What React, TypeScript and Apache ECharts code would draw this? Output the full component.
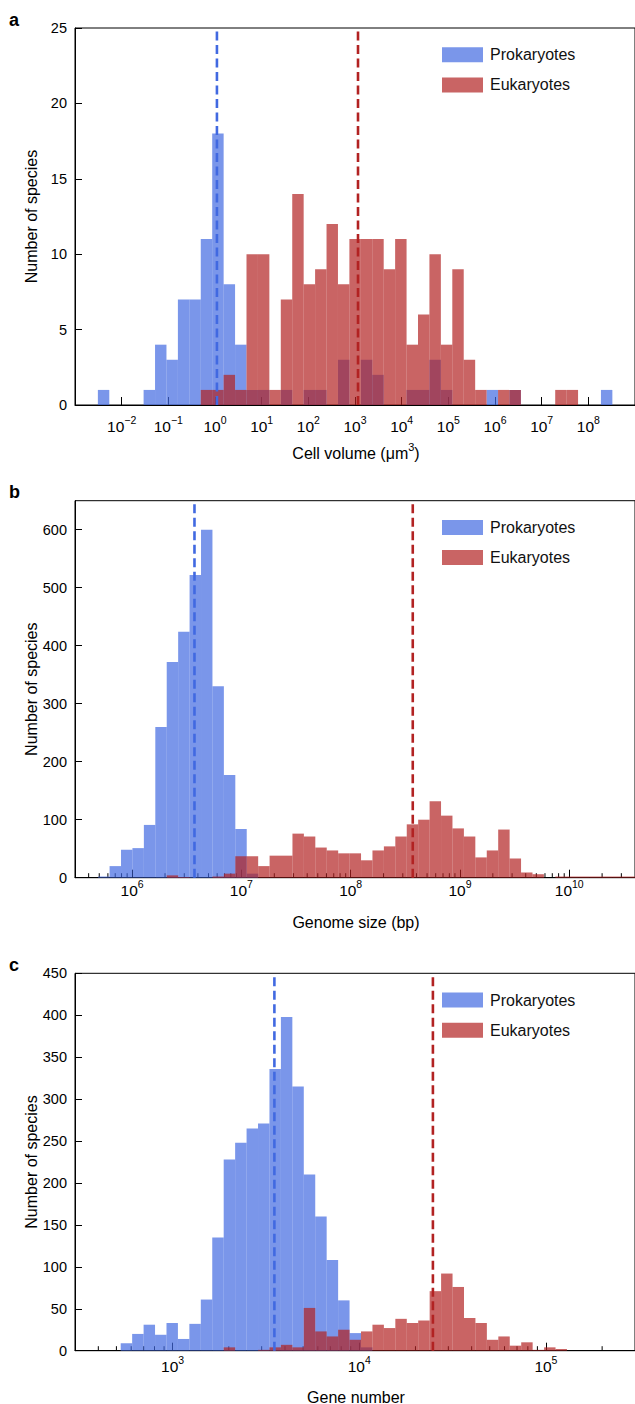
import React, { useEffect, useRef } from 'react';
import * as echarts from 'echarts';

const FONT = '"Liberation Sans", Arial, Helvetica, sans-serif';

// ---------- Panel a: cell volume (µm³), log10 bins ----------
const cellBinStartLog = -2.51;
const cellBinWidthLog = 0.245;
const cellProkaryotes = [1, 0, 0, 0, 1, 4, 3, 7, 7, 11, 18, 8, 4, 1, 1, 0, 1, 0, 1, 1, 0, 3, 0, 3, 2, 0, 0, 1, 1, 3, 1, 0, 0, 0, 1, 0, 1, 0, 0, 0, 0, 0, 0, 0, 1];
const cellEukaryotes = [0, 0, 0, 0, 0, 0, 0, 0, 0, 1, 1, 2, 1, 10, 10, 1, 7, 14, 8, 9, 12, 8, 11, 11, 11, 9, 11, 4, 6, 10, 4, 9, 3, 1, 0, 1, 1, 0, 0, 0, 1, 1, 0, 0, 0];
const cellMedians = [1.1, 1160];
const cellXRange = [1e-3, 1e9];
const cellYTicks = [0, 5, 10, 15, 20, 25];

// ---------- Panel b: genome size (bp) ----------
const genomeBinStartLog = 5.689;
const genomeBinWidthLog = 0.1046;
const genomeProkaryotes = [2, 20, 48, 51, 91, 260, 372, 424, 522, 600, 330, 177, 84, 7];
const genomeEukaryotes = [0, 0, 0, 0, 0, 0, 4, 1, 0, 0, 2, 7, 37, 37, 20, 38, 38, 76, 71, 52, 47, 42, 42, 30, 47, 54, 71, 92, 100, 132, 107, 85, 71, 35, 47, 83, 33, 9, 6, 0, 2, 2, 2, 2, 2, 2, 2];
const genomeMedians = [3.72e6, 3.7e8];
const genomeXRange = [3e5, 4e10];
const genomeYTicks = [0, 100, 200, 300, 400, 500, 600];
const genomeYMax = 650;

// ---------- Panel c: gene number ----------
const geneBinStartLog = 2.722;
const geneBinWidthLog = 0.0613;
const geneProkaryotes = [9, 20, 31, 19, 33, 14, 32, 61, 135, 228, 248, 265, 271, 336, 398, 315, 210, 160, 108, 60, 21, 4];
const geneEukaryotes = [0, 0, 0, 0, 0, 0, 0, 0, 0, 4, 0, 0, 1, 4, 7, 4, 51, 23, 17, 25, 13, 23, 31, 27, 38, 33, 36, 71, 92, 76, 39, 33, 13, 17, 6, 10, 1, 4, 2];
const geneMedians = [3510, 24800];
const geneXRange = [300, 3e5];
const geneYTicks = [0, 50, 100, 150, 200, 250, 300, 350, 400, 450];

const seriesNames = ['Prokaryotes', 'Eukaryotes'];
const panelLetters = ['a', 'b', 'c'];
// rich-text titles: {n|...} normal, {s|...} superscript
const xTitles = ['{n|Cell volume (μm}{s|3}{n|)}', '{n|Genome size (bp)}', '{n|Gene number}'];
const yTitle = 'Number of species';

const PROK_FILL = 'rgba(65,105,225,0.7)';
const EUK_FILL = 'rgba(178,34,34,0.7)';
const PROK_LINE = '#4169e1';
const EUK_LINE = '#b22222';

type Panel = {
  start: number;
  width: number;
  prok: number[];
  euk: number[];
  medians: number[];
  xRange: number[];
  yMax: number;
  yInterval: number;
  minorTicks: boolean;
  top: number;
  height: number;
  labelMargin: number;
  titleY: number;
};

const panels: Panel[] = [
  { start: cellBinStartLog, width: cellBinWidthLog, prok: cellProkaryotes, euk: cellEukaryotes, medians: cellMedians, xRange: cellXRange, yMax: cellYTicks[cellYTicks.length - 1], yInterval: cellYTicks[1] - cellYTicks[0], minorTicks: false, top: 28, height: 377, labelMargin: 9, titleY: 451.5 },
  { start: genomeBinStartLog, width: genomeBinWidthLog, prok: genomeProkaryotes, euk: genomeEukaryotes, medians: genomeMedians, xRange: genomeXRange, yMax: genomeYMax, yInterval: genomeYTicks[1] - genomeYTicks[0], minorTicks: true, top: 500.7, height: 377, labelMargin: 1, titleY: 920 },
  { start: geneBinStartLog, width: geneBinWidthLog, prok: geneProkaryotes, euk: geneEukaryotes, medians: geneMedians, xRange: geneXRange, yMax: geneYTicks[geneYTicks.length - 1], yInterval: geneYTicks[1] - geneYTicks[0], minorTicks: true, top: 973.3, height: 377.4, labelMargin: 4, titleY: 1395 },
];

function histRows(counts: number[], start: number, width: number) {
  const rows: number[][] = [];
  counts.forEach((c, i) => {
    if (c > 0) rows.push([start + i * width, start + (i + 1) * width, c]);
  });
  return rows;
}

function minorTickValues(range: number[]) {
  const lo = Math.log10(range[0]);
  const hi = Math.log10(range[1]);
  const out: number[][] = [];
  for (let d = Math.floor(lo); d <= Math.ceil(hi); d++) {
    for (let k = 2; k <= 9; k++) {
      const v = d + Math.log10(k);
      if (v > lo + 1e-6 && v < hi - 1e-6) out.push([v, 0]);
    }
  }
  return out;
}

const barRender = (params: any, api: any) => {
  const c = api.value(2);
  const p0 = api.coord([api.value(0), c]);
  const p1 = api.coord([api.value(1), 0]);
  return {
    type: 'rect',
    shape: { x: p0[0], y: p0[1], width: p1[0] - p0[0], height: p1[1] - p0[1] },
    style: api.style(),
  };
};

const minorRender = (params: any, api: any) => {
  const p = api.coord([api.value(0), 0]);
  return {
    type: 'line',
    shape: { x1: p[0], y1: p[1], x2: p[0], y2: p[1] - 4.5 },
    style: { stroke: '#000', lineWidth: 1 },
  };
};

function expLabel(value: number) {
  const e = Math.round(value);
  if (Math.abs(value - e) > 1e-6) return '';
  const s = e < 0 ? '\u2212' + -e : String(e);
  return '{b|10}{s|' + s + '}';
}

function buildOption() {
  const grid: any[] = [];
  const xAxis: any[] = [];
  const yAxis: any[] = [];
  const series: any[] = [];
  const legend: any[] = [];
  const graphic: any[] = [];

  panels.forEach((p, i) => {
    grid.push({
      left: 75,
      right: -2.5,
      top: p.top,
      height: p.height,
      show: true,
      borderColor: '#000',
      borderWidth: 1,
      backgroundColor: 'transparent',
    });
    xAxis.push({
      type: 'value',
      gridIndex: i,
      min: Math.log10(p.xRange[0]),
      max: Math.log10(p.xRange[1]),
      minInterval: 1,
      maxInterval: 1,
      axisLine: { show: true, onZero: false, lineStyle: { color: '#000', width: 1 } },
      axisTick: { show: true, inside: true, length: 8, lineStyle: { color: '#000', width: 1 } },
      splitLine: { show: false },
      axisLabel: {
        show: true,
        showMinLabel: false,
        showMaxLabel: false,
        margin: p.labelMargin,
        formatter: expLabel,
        rich: {
          b: { fontSize: 15.5, fontFamily: FONT, color: '#000', verticalAlign: 'bottom', lineHeight: 20 },
          s: { fontSize: 10.5, fontFamily: FONT, color: '#000', verticalAlign: 'top' },
        },
      },
    });
    yAxis.push({
      type: 'value',
      gridIndex: i,
      min: 0,
      max: p.yMax,
      interval: p.yInterval,
      axisLine: { show: true, onZero: false, lineStyle: { color: '#000', width: 1 } },
      axisTick: { show: true, inside: true, length: 7, lineStyle: { color: '#000', width: 1 } },
      splitLine: { show: false },
      axisLabel: {
        show: true,
        showMaxLabel: p.yMax % p.yInterval === 0,
        margin: 8,
        fontSize: 14.5,
        fontFamily: FONT,
        color: '#000',
      },
    });

    if (p.minorTicks) {
      series.push({
        type: 'custom',
        name: 'minor-' + i,
        xAxisIndex: i,
        yAxisIndex: i,
        z: 1,
        silent: true,
        renderItem: minorRender,
        encode: { x: 0, y: 1 },
        data: minorTickValues(p.xRange),
      });
    }
    series.push({
      type: 'custom',
      name: seriesNames[0],
      xAxisIndex: i,
      yAxisIndex: i,
      z: 2,
      silent: true,
      itemStyle: { color: PROK_FILL },
      renderItem: barRender,
      encode: { x: [0, 1], y: 2 },
      data: histRows(p.prok, p.start, p.width),
    });
    series.push({
      type: 'custom',
      name: seriesNames[1],
      xAxisIndex: i,
      yAxisIndex: i,
      z: 3,
      silent: true,
      itemStyle: { color: EUK_FILL },
      renderItem: barRender,
      encode: { x: [0, 1], y: 2 },
      data: histRows(p.euk, p.start, p.width),
    });
    [PROK_LINE, EUK_LINE].forEach((col, k) => {
      const xv = Math.log10(p.medians[k]);
      series.push({
        type: 'line',
        name: 'median-' + i + '-' + k,
        xAxisIndex: i,
        yAxisIndex: i,
        z: 5,
        silent: true,
        symbol: 'none',
        lineStyle: { color: col, width: 2.6, type: [9, 4.5] },
        data: [[xv, 0], [xv, p.yMax]],
      });
    });

    legend.push({
      data: seriesNames,
      orient: 'vertical',
      left: 442,
      top: p.top + 18.7,
      padding: 0,
      itemWidth: 41,
      itemHeight: 15,
      itemGap: 14.2,
      icon: 'rect',
      selectedMode: false,
      textStyle: { fontSize: 16, fontFamily: FONT, color: '#111', lineHeight: 15, padding: [0, 0, 0, 2] },
    });

    graphic.push({
      type: 'text',
      x: 9,
      y: p.top - 8.5,
      style: { text: panelLetters[i], font: 'bold 18px ' + FONT, fill: '#000', align: 'left', verticalAlign: 'middle' },
    });
    graphic.push({
      type: 'text',
      x: 31,
      y: p.top + p.height / 2,
      rotation: Math.PI / 2,
      style: { text: yTitle, font: '16px ' + FONT, fill: '#000', align: 'center', verticalAlign: 'middle' },
    });
    graphic.push({
      type: 'text',
      x: 356,
      y: p.titleY,
      style: {
        text: xTitles[i],
        align: 'center',
        verticalAlign: 'middle',
        rich: {
          n: { fontSize: 16, fontFamily: FONT, fill: '#000', verticalAlign: 'bottom', lineHeight: 20 },
          s: { fontSize: 11, fontFamily: FONT, fill: '#000', verticalAlign: 'top' },
        },
      },
    });
  });

  return {
    animation: false,
    backgroundColor: '#fff',
    grid,
    xAxis,
    yAxis,
    legend,
    graphic,
    series,
  };
}

export default function App() {
  const ref = useRef<HTMLDivElement>(null);
  useEffect(() => {
    if (!ref.current) return;
    const chart = echarts.init(ref.current, undefined, { renderer: 'svg' });
    chart.setOption(buildOption() as any);
    return () => chart.dispose();
  }, []);
  return (
    <div
      ref={ref}
      style={{ position: 'absolute', left: 0, top: 0, width: 635, height: 1404, background: '#fff' }}
    />
  );
}
